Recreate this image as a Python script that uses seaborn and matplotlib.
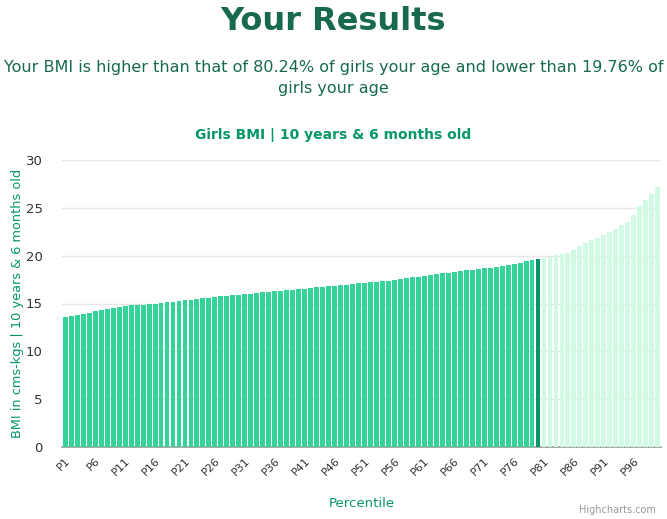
import numpy as np
import pandas as pd
import matplotlib
matplotlib.use("Agg")
import matplotlib.pyplot as plt
import seaborn as sns

# percentile BMI values (P1..P100)
bmi_values = [
    13.62, 13.73, 13.83, 13.94, 14.04, 14.25, 14.35, 14.46, 14.56, 14.67,
    14.77, 14.88, 14.84, 14.84, 14.94, 14.94, 15.05, 15.19, 15.15, 15.29,
    15.36, 15.36, 15.46, 15.57, 15.57, 15.68, 15.78, 15.78, 15.89, 15.89,
    15.99, 15.99, 16.10, 16.20, 16.20, 16.31, 16.31, 16.41, 16.41, 16.52,
    16.52, 16.62, 16.72, 16.72, 16.83, 16.83, 16.93, 16.93, 17.04, 17.14,
    17.14, 17.25, 17.25, 17.35, 17.35, 17.46, 17.56, 17.66, 17.77, 17.77,
    17.87, 17.98, 18.08, 18.19, 18.19, 18.29, 18.40, 18.50, 18.50, 18.61,
    18.71, 18.71, 18.81, 18.92, 19.02, 19.13, 19.23, 19.44, 19.55, 19.65,
    19.76, 19.86, 20.07, 20.17, 20.28, 20.59, 21.01, 21.32, 21.64, 21.85,
    22.16, 22.47, 22.79, 23.20, 23.52, 24.25, 25.19, 25.82, 26.45, 27.18,
]
percentiles = [f"P{i}" for i in range(1, 101)]
user_percentile = "P80"

below_color = "#36d399"
user_color = "#059669"
above_color = "#d1fae5"

user_idx = percentiles.index(user_percentile)
bar_colors = [below_color if i < user_idx else (user_color if i == user_idx else above_color)
              for i in range(len(percentiles))]

df = pd.DataFrame({"percentile": percentiles, "bmi": bmi_values})

sns.set_style("white")
plt.rcParams['font.family'] = ['DejaVu Sans']

fig = plt.figure(figsize=(6.67, 5.19), dpi=100)
ax = fig.add_axes([62 / 667, 72 / 519, 599 / 667, 287 / 519])

sns.barplot(data=df, x="percentile", y="bmi", hue="percentile",
            palette=bar_colors, saturation=1, legend=False, width=0.82,
            edgecolor="none", linewidth=0, ax=ax, zorder=3)

ax.set_ylim(0, 30)
ax.set_xlim(-0.55, 99.55)
ax.set_yticks(np.arange(0, 31, 5))
ax.yaxis.grid(True, color="#e6e6e6", linewidth=1, zorder=0)
ax.set_axisbelow(True)
for s in ["top", "right", "left"]:
    ax.spines[s].set_visible(False)
ax.spines["bottom"].set_color("#999999")
ax.spines["bottom"].set_linewidth(1.2)

tick_pos = list(range(0, 100, 5))
ax.set_xticks(tick_pos)
ax.set_xticklabels([percentiles[i] for i in tick_pos], rotation=45, ha="right",
                   rotation_mode="anchor", fontsize=8, color="#333333")
ax.tick_params(axis="x", length=0, pad=6)
ax.tick_params(axis="y", length=0, pad=14, labelsize=9.5, labelcolor="#333333")

ax.set_xlabel("Percentile", color="#059669", fontsize=9.5, labelpad=14)
ax.set_ylabel("BMI in cms-kgs | 10 years & 6 months old", color="#059669",
              fontsize=9.3)
ax.yaxis.set_label_coords(-0.064, 0.5)

fig.text(0.5, 1 - 22 / 519, "Your Results", ha="center", va="center",
         fontsize=23, fontweight="bold", color="#17694f")
fig.text(0.5, 1 - 78 / 519,
         "Your BMI is higher than that of 80.24% of girls your age and lower than 19.76% of\ngirls your age",
         ha="center", va="center", fontsize=11.5, color="#17694f", linespacing=1.45)
fig.text(0.5, 1 - 135 / 519, "Girls BMI | 10 years & 6 months old", ha="center",
         va="center", fontsize=10, fontweight="bold", color="#059669")
fig.text(1 - 11 / 667, 9 / 519, "Highcharts.com", ha="right", va="center",
         fontsize=7, color="#999999")

fig.savefig("out.png", dpi=100)
